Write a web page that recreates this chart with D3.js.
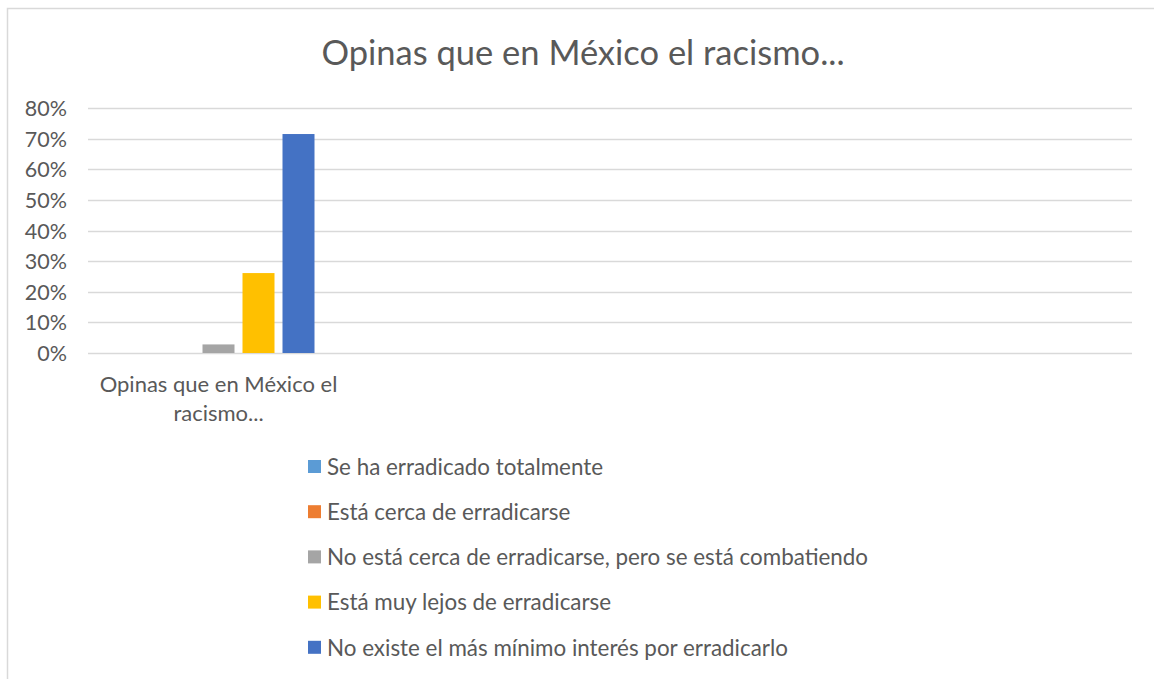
<!DOCTYPE html>
<html>
<head>
<meta charset="utf-8">
<script src="https://cdn.jsdelivr.net/npm/d3@7/dist/d3.min.js"></script>
<style>
  html, body { margin: 0; padding: 0; background: #fff; }
  svg { display: block; }
  text { font-family: Lato, "Open Sans", sans-serif; fill: #595959; }
</style>
</head>
<body>
<svg id="chart" width="1154" height="679"></svg>
<script>
const title = "Opinas que en México el racismo...";
const categories = ["Opinas que en México el racismo...", "", "", ""];
const seriesNames = [
  "Se ha erradicado totalmente",
  "Está cerca de erradicarse",
  "No está cerca de erradicarse, pero se está combatiendo",
  "Está muy lejos de erradicarse",
  "No existe el más mínimo interés por erradicarlo"
];
const seriesColors = ["#5B9BD5", "#ED7D31", "#A5A5A5", "#FFC000", "#4472C4"];
const seriesValues = [0, 0, 2.8, 26.1, 71.5]; // % for the first category
const yTicks = [0, 10, 20, 30, 40, 50, 60, 70, 80];

const FONT = 'Lato, "Open Sans", sans-serif';
const svg = d3.select("#chart");

// chart border (top and left visible)
svg.append("rect").attr("x", 7.5).attr("y", 8.5).attr("width", 1170).attr("height", 700)
  .attr("fill", "none").attr("stroke", "#d9d9d9").attr("stroke-width", 1.5);

// title
svg.append("text").attr("x", 583).attr("y", 65).attr("text-anchor", "middle")
  .style("font-size", "34.5px").text(title);

const plot = { left: 88, right: 1132, top: 108, bottom: 353 };
const y = d3.scaleLinear().domain([0, 80]).range([plot.bottom, plot.top]);
const x = d3.scaleBand().domain(d3.range(categories.length)).range([plot.left, plot.right]);
const step = 40;
const xs = d3.scaleBand().domain(seriesNames).range([0, x.bandwidth()])
  .paddingInner(0.2).paddingOuter((x.bandwidth() / step - seriesNames.length + 0.2) / 2);

// gridlines
svg.append("g").selectAll("line").data(yTicks).join("line")
  .attr("x1", plot.left).attr("x2", plot.right)
  .attr("y1", d => Math.round(y(d)) + 0.5).attr("y2", d => Math.round(y(d)) + 0.5)
  .attr("stroke", "#d9d9d9").attr("stroke-width", 1.3);

// y axis labels
const yAxis = d3.axisLeft(y).tickValues(yTicks).tickFormat(d => d + "%").tickSize(0).tickPadding(0);
const gy = svg.append("g").attr("transform", "translate(67,0)").call(yAxis);
gy.select(".domain").remove();
gy.selectAll("text").style("font-size", "21.5px").attr("fill", "#595959")
  .style("font-family", FONT).attr("dy", "0.35em");

// bars
const data = seriesNames.map((s, i) => ({ s, v: seriesValues[i], c: seriesColors[i] }));
svg.append("g").selectAll("rect").data(data).join("rect")
  .attr("x", d => x(0) + xs(d.s))
  .attr("width", xs.bandwidth())
  .attr("y", d => y(d.v))
  .attr("height", d => y(0) - y(d.v))
  .attr("fill", d => d.c);

// category labels (wrapped)
const xAxis = d3.axisBottom(x).tickFormat(i => categories[i]).tickSize(0).tickPadding(0);
const gx = svg.append("g").attr("transform", `translate(0,${plot.bottom})`).call(xAxis);
gx.select(".domain").remove();
gx.selectAll("text").style("font-size", "22px").attr("fill", "#595959")
  .style("font-family", FONT).attr("dy", null).attr("y", null)
  .each(function () {
    const t = d3.select(this);
    const words = t.text().split(/\s+/).filter(Boolean);
    t.text(null);
    let line = [], lineNo = 0;
    let ts = t.append("tspan").attr("x", 0).attr("y", 39);
    for (const w of words) {
      line.push(w);
      ts.text(line.join(" "));
      if (ts.node().getComputedTextLength() > 252 && line.length > 1) {
        line.pop(); ts.text(line.join(" "));
        line = [w]; lineNo++;
        ts = t.append("tspan").attr("x", 0).attr("y", 39 + lineNo * 29).text(w);
      }
    }
  });

// legend
const legend = svg.append("g").selectAll("g").data(data).join("g")
  .attr("transform", (d, i) => `translate(308,${467 + i * 45.2})`);
legend.append("rect").attr("x", 0).attr("y", -7).attr("width", 13).attr("height", 13).attr("fill", d => d.c);
legend.append("text").attr("x", 19).attr("y", 0).attr("dy", "0.35em")
  .style("font-size", "22.4px").text(d => d.s);
</script>
</body>
</html>
